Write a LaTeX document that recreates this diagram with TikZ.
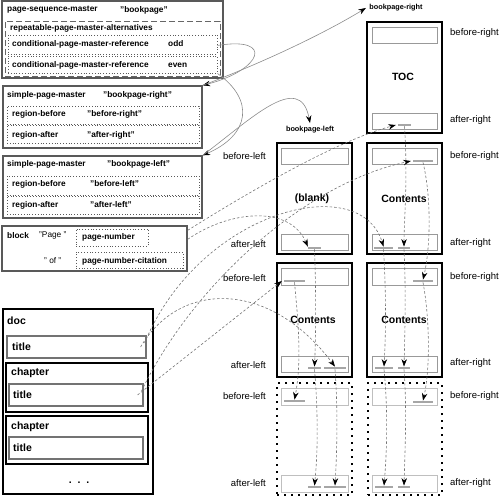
\documentclass[tikz,border=0pt]{standalone}
\usepackage{fontspec}
\setmainfont{Liberation Sans}
\usetikzlibrary{arrows.meta, positioning, fit}

\tikzset{
  fobox/.style={draw=black!65, line width=1.3pt, inner sep=0pt},
  dashbox/.style={draw=black!60, line width=0.7pt, dash pattern=on 6pt off 3pt, inner sep=0pt},
  dotbox/.style={draw=black!65, line width=0.8pt, dotted, inner sep=0pt},
  treebox/.style={draw=black, line width=1.4pt, inner sep=0pt},
  leafbox/.style={draw=black!55, line width=1.1pt, inner sep=0pt},
  page/.style={draw=black, line width=1.4pt, inner sep=0pt},
  ghost/.style={draw=black, line width=2pt, dash pattern=on 2pt off 5pt, inner sep=0pt},
  region/.style={draw=black!40, line width=0.6pt, inner sep=0pt},
  bar/.style={fill=black!35, inner sep=0pt, minimum height=2.4pt},
  lbl/.style={font=\fontsize{8.3}{10}\selectfont\bfseries, anchor=west, inner sep=0pt},
  lit/.style={font=\fontsize{8.3}{10}\selectfont, anchor=west, inner sep=0pt},
  tree/.style={font=\fontsize{10.5}{12}\selectfont\bfseries, anchor=west, inner sep=0pt},
  ptxt/.style={font=\fontsize{10.5}{12}\selectfont\bfseries, inner sep=0pt},
  side/.style={font=\fontsize{9.5}{11}\selectfont, inner sep=0pt},
  link/.style={draw=black!45, line width=0.6pt, -{Stealth[length=7.5pt, width=5.5pt, color=black]}},
  flow/.style={draw=black!55, line width=0.6pt, dash pattern=on 2.5pt off 2pt, -{Stealth[length=7.5pt, width=5.5pt, color=black]}}
}

\begin{document}
\begin{tikzpicture}[x=1pt, y=-1pt]
  \useasboundingbox (0,0) rectangle (500,497);

  % page-sequence-master
  \node[fobox, fit={(2,1) (223,78)}] (psm) {};
  \node[lbl] (psmT) at (7,10) {page-sequence-master};
  \node[lbl] (psmV) at (120,10) {"bookpage"};
  \node[dashbox, fit={(5,21) (220,76)}] (rpma) {};
  \node[lbl] (rpmaT) at (10,28) {repeatable-page-master-alternatives};
  \node[dotbox, fit={(8,35) (217,54)}] (odd) {};
  \node[lbl] (oddT) at (12,44) {conditional-page-master-reference};
  \node[lbl] (oddV) at (168,44) {odd};
  \node[dotbox, fit={(8,56) (217,73)}] (even) {};
  \node[lbl] (evenT) at (12,65) {conditional-page-master-reference};
  \node[lbl] (evenV) at (168,65) {even};

  % simple-page-masters
  \node[fobox, fit={(3,86) (202,148)}] (spmR) {};
  \node[lbl] (spmRT) at (7,95) {simple-page-master};
  \node[lbl] (spmRV) at (103,95) {"bookpage-right"};
  \node[dotbox, fit={(7,106) (199,124)}] (rbR) {};
  \node[lbl] (rbRT) at (12,114) {region-before};
  \node[lbl] (rbRV) at (87,114) {"before-right"};
  \node[dotbox, fit={(7,125) (199,143)}] (raR) {};
  \node[lbl] (raRT) at (12,135) {region-after};
  \node[lbl] (raRV) at (87,135) {"after-right"};

  \node[fobox, fit={(3,156) (202,218)}] (spmL) {};
  \node[lbl] (spmLT) at (7,164) {simple-page-master};
  \node[lbl] (spmLV) at (107,164) {"bookpage-left"};
  \node[dotbox, fit={(7,176) (199,195)}] (rbL) {};
  \node[lbl] (rbLT) at (12,184) {region-before};
  \node[lbl] (rbLV) at (90,184) {"before-left"};
  \node[dotbox, fit={(7,196) (199,214)}] (raL) {};
  \node[lbl] (raLT) at (12,205) {region-after};
  \node[lbl] (raLV) at (90,205) {"after-left"};

  % block
  \node[fobox, fit={(2,226) (187,271)}] (blk) {};
  \node[lbl] (blkT) at (7,236) {block};
  \node[lit] (pageT) at (39,236) {"Page "};
  \node[lit] (ofT) at (44,261) {" of "};
  \node[dotbox, fit={(76,229) (148,246)}] (pnum) {};
  \node[lbl] (pnumT) at (82,237) {page-number};
  \node[dotbox, fit={(76,252) (183,268)}] (pcite) {};
  \node[lbl] (pciteT) at (82,261) {page-number-citation};

  % document tree
  \node[treebox, fit={(3,309) (153,494)}] (doc) {};
  \node[tree] (docT) at (7,321) {doc};
  \node[leafbox, fit={(7,336) (146,358)}] (dtitle) {};
  \node[tree] (dtitleT) at (12,347) {title};
  \node[treebox, fit={(6,363) (148,412)}] (chapA) {};
  \node[tree] (chapAT) at (11,373) {chapter};
  \node[leafbox, fit={(9,384) (143,406)}] (ctitleA) {};
  \node[tree] (ctitleAT) at (13,395) {title};
  \node[treebox, fit={(6,416) (148,464)}] (chapB) {};
  \node[tree] (chapBT) at (11,427) {chapter};
  \node[leafbox, fit={(9,437) (143,459)}] (ctitleB) {};
  \node[tree] (ctitleBT) at (13,448) {title};
  \node[ptxt] (more) at (79,483) {.\ \ .\ \ .};

  % pages, first row
  \node[font=\fontsize{7.3}{9}\selectfont\bfseries] (nameR) at (396,8) {bookpage-right};
  \node[page, fit={(367,22) (442,133)}] (toc) {};
  \node[region, fit={(372,27) (437,43)}] (tocB) {};
  \node[region, fit={(372,113) (437,129)}] (tocA) {};
  \node[ptxt] (tocT) at (403,77) {TOC};
  \node[bar, minimum width=13pt] (tocN) at (404.5,125) {};
  \node[side, anchor=west] (tocBL) at (450,33) {before-right};
  \node[side, anchor=west] (tocAL) at (450,120) {after-right};

  % second row
  \node[font=\fontsize{7.3}{9}\selectfont\bfseries] (nameL) at (310,130) {bookpage-left};
  \node[page, fit={(277,143) (352,254)}] (blank) {};
  \node[region, fit={(281,148) (348,164)}] (blankB) {};
  \node[region, fit={(281,234) (348,250)}] (blankA) {};
  \node[ptxt] (blankT) at (312,199) {(blank)};
  \node[bar, minimum width=13pt] (blankN) at (314.5,248) {};
  \node[page, fit={(367,143) (442,254)}] (cont) {};
  \node[region, fit={(372,148) (437,164)}] (contB) {};
  \node[region, fit={(372,234) (437,250)}] (contA) {};
  \node[ptxt] (contT) at (404,199) {Contents};
  \node[bar, minimum width=20pt] (contH) at (423,161) {};
  \node[bar, minimum width=19pt] (contN) at (383.5,248) {};
  \node[bar, minimum width=12pt] (contC) at (404,248) {};
  \node[side, anchor=east] (blankBL) at (266,156) {before-left};
  \node[side, anchor=east] (blankAL) at (266,244) {after-left};
  \node[side, anchor=west] (contBL) at (450,156) {before-right};
  \node[side, anchor=west] (contAL) at (450,243) {after-right};

  % third row
  \node[page, fit={(277,263) (352,377)}] (leftA) {};
  \node[region, fit={(281,268) (348,285)}] (leftAB) {};
  \node[region, fit={(281,356) (348,372)}] (leftAA) {};
  \node[ptxt] (leftAT) at (313,320) {Contents};
  \node[bar, minimum width=21pt] (leftAH) at (294.5,281) {};
  \node[bar, minimum width=13pt] (leftAN) at (314.5,368) {};
  \node[bar, minimum width=22pt] (leftAC) at (335,368) {};
  \node[page, fit={(367,263) (442,377)}] (rightA) {};
  \node[region, fit={(372,268) (437,285)}] (rightAB) {};
  \node[region, fit={(372,356) (437,372)}] (rightAA) {};
  \node[ptxt] (rightAT) at (404,320) {Contents};
  \node[bar, minimum width=20pt] (rightAH) at (423,281) {};
  \node[bar, minimum width=18pt] (rightAN) at (384,368) {};
  \node[bar, minimum width=12pt] (rightAC) at (404,368) {};
  \node[side, anchor=east] (leftABL) at (266,278) {before-left};
  \node[side, anchor=east] (leftAAL) at (266,365) {after-left};
  \node[side, anchor=west] (rightABL) at (450,277) {before-right};
  \node[side, anchor=west] (rightAAL) at (450,363) {after-right};

  % fourth row
  \node[ghost, fit={(277,383) (352,495)}] (leftB) {};
  \node[region, draw=black!25, fit={(281,388) (348,405)}] (leftBB) {};
  \node[region, draw=black!25, fit={(281,475) (348,492)}] (leftBA) {};
  \node[bar, minimum width=21pt] (leftBH) at (294.5,401) {};
  \node[bar, minimum width=13pt] (leftBN) at (314.5,487) {};
  \node[bar, minimum width=22pt] (leftBC) at (335,487) {};
  \node[ghost, fit={(368,383) (442,495)}] (rightB) {};
  \node[region, draw=black!25, fit={(372,388) (437,405)}] (rightBB) {};
  \node[region, draw=black!25, fit={(372,475) (437,492)}] (rightBA) {};
  \node[bar, minimum width=20pt] (rightBH) at (423,402) {};
  \node[bar, minimum width=18pt] (rightBN) at (384,487) {};
  \node[bar, minimum width=12pt] (rightBC) at (404,487) {};
  \node[side, anchor=east] (leftBBL) at (266,396) {before-left};
  \node[side, anchor=east] (leftBAL) at (266,483) {after-left};
  \node[side, anchor=west] (rightBBL) at (450,396) {before-right};
  \node[side, anchor=west] (rightBAL) at (450,483) {after-right};

  % master references
  \draw[link] ([yshift=-1pt]odd.east) .. controls (275,36) and (262,70) .. (spmR.north east);
  \draw[link] (spmR.north east) .. controls (270,60) and (330,30) .. (nameR.west);
  \draw[link] (even.south east) .. controls (255,100) and (250,135) .. (spmL.north east);
  \draw[link] (spmL.north east) .. controls (250,120) and (300,70) .. (nameL.north);

  % content into regions
  \draw[flow] ([yshift=-5pt]blk.north east) .. controls (260,185) and (340,140) .. ([xshift=-2pt]tocN.west);
  \draw[flow] ([yshift=-14pt]blk.north east) .. controls (230,210) and (290,205) .. (blankN.north west);
  \draw[flow] ([xshift=-2pt,yshift=4pt]dtitle.east) .. controls (200,210) and (360,170) .. (contN.north);
  \draw[flow] ([xshift=-6pt]dtitle.east) .. controls (180,280) and (270,280) .. (leftAC.north);
  \draw[flow] ([xshift=-2pt,yshift=4pt]ctitleA.east) .. controls (190,290) and (300,185) .. ([xshift=-2pt]contH.west);
  \draw[flow] ([xshift=-6pt]ctitleA.east) -- ([xshift=-2pt]leftAH.west);

  % carried over to the next page
  \draw[flow] (tocN.south) .. controls (408,180) and (404,220) .. (contC.north);
  \draw[flow] (blankN.south) .. controls (316,290) and (316,330) .. (leftAN.north);
  \draw[flow] (contH.south) .. controls (432,200) and (430,250) .. (rightAH.north);
  \draw[flow] (contN.south) .. controls (386,290) and (386,330) .. (rightAN.north);
  \draw[flow] (contC.south) .. controls (406,290) and (405,330) .. (rightAC.north);
  \draw[flow] (leftAH.south) .. controls (298,320) and (302,360) .. (leftBH.north);
  \draw[flow] (leftAN.south) .. controls (318,410) and (318,450) .. (leftBN.north);
  \draw[flow] (leftAC.south) .. controls (338,410) and (337,450) .. (leftBC.north);
  \draw[flow] (rightAH.south) .. controls (430,320) and (430,370) .. (rightBH.north);
  \draw[flow] (rightAN.south) .. controls (388,410) and (387,450) .. (rightBN.north);
  \draw[flow] (rightAC.south) .. controls (407,410) and (405,450) .. (rightBC.north);
\end{tikzpicture}
\end{document}
